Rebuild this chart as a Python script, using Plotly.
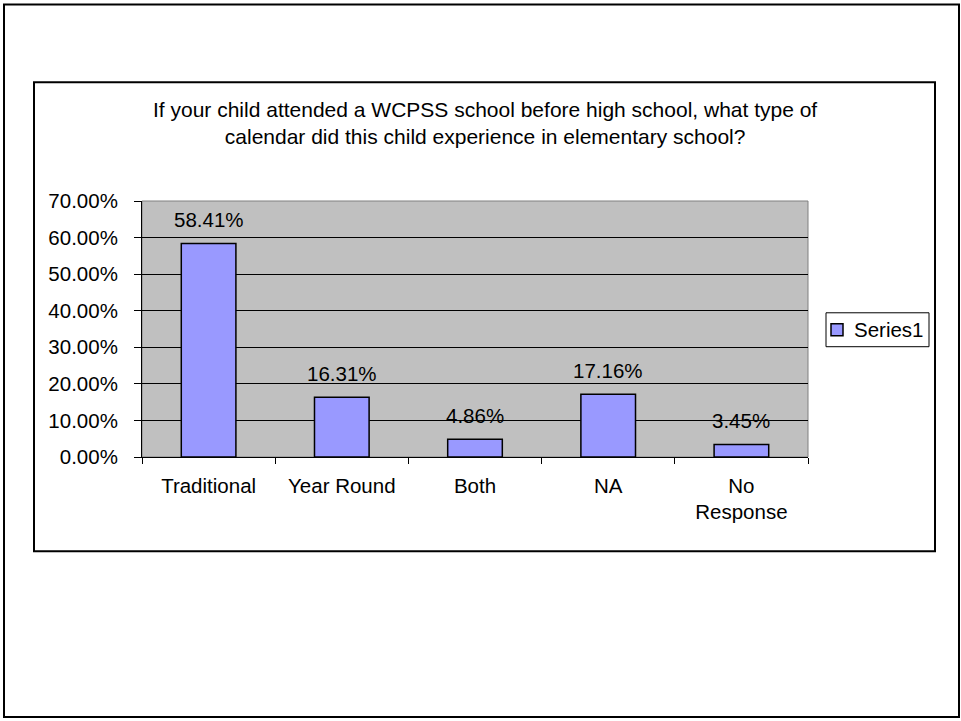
import plotly.graph_objects as go

categories = ["Traditional", "Year Round", "Both", "NA", "No<br>Response"]
values = [58.41, 16.31, 4.86, 17.16, 3.45]
value_labels = ["58.41%", "16.31%", "4.86%", "17.16%", "3.45%"]
series_name = "Series1"
title_text = ("If your child attended a WCPSS school before high school, what type of<br>"
              "calendar did this child experience in elementary school?")

W, H = 961, 721
L, R, T, B = 142, 808, 201, 457.5
pw, ph = R - L, B - T


def px_x(x):
    return (x - L) / pw


def px_y(y):
    return (B - y) / ph


FONT = "Liberation Sans, Arial, sans-serif"
FS = 20.5
FT = 21

fig = go.Figure()
fig.add_trace(go.Bar(
    x=categories, y=values, name=series_name, width=0.41,
    marker=dict(color="#9999FF", line=dict(color="black", width=1.5)),
    showlegend=False,
))

for c, v, t in zip(categories, values, value_labels):
    fig.add_annotation(x=c, y=v, text=t, showarrow=False, yshift=24,
                       yanchor="middle", font=dict(family=FONT, size=FS, color="black"))

fig.add_annotation(xref="paper", yref="paper", x=px_x(484.5), y=px_y(123),
                   text=title_text, showarrow=False, xanchor="center", yanchor="middle",
                   align="center", font=dict(family=FONT, size=FT, color="black"))

# legend (Excel-style box with small swatch)
fig.add_annotation(xref="paper", yref="paper", x=px_x(852), y=px_y(330),
                   text=series_name, showarrow=False, xanchor="left", yanchor="middle",
                   font=dict(family=FONT, size=FS, color="black"))

shapes = [
    dict(type="rect", xref="paper", yref="paper", x0=px_x(4), x1=px_x(959), y0=px_y(718), y1=px_y(4),
         line=dict(color="black", width=2), layer="below"),
    dict(type="rect", xref="paper", yref="paper", x0=px_x(34), x1=px_x(935), y0=px_y(552), y1=px_y(82),
         line=dict(color="black", width=2), layer="below"),
    dict(type="rect", xref="paper", yref="paper", x0=0, x1=1, y0=0, y1=1,
         line=dict(color="#808080", width=1), layer="below"),
    dict(type="rect", xref="paper", yref="paper", x0=px_x(826), x1=px_x(929), y0=px_y(347), y1=px_y(313),
         line=dict(color="black", width=1), fillcolor="white"),
    dict(type="rect", xref="paper", yref="paper", x0=px_x(831), x1=px_x(843), y0=px_y(336), y1=px_y(324),
         line=dict(color="black", width=1.5), fillcolor="#9999FF"),
]

fig.update_layout(
    width=W, height=H,
    margin=dict(l=L, r=W - R, t=T, b=H - B, pad=0),
    paper_bgcolor="white", plot_bgcolor="#C0C0C0",
    font=dict(family=FONT, size=FS, color="black"),
    shapes=shapes,
    showlegend=False,
    xaxis=dict(type="category", tickson="boundaries", ticks="outside", ticklen=6,
               tickcolor="black", showline=True, linecolor="black", linewidth=1,
               showgrid=False, tickfont=dict(family=FONT, size=FS, color="black"),
               ticklabelstandoff=10),
    yaxis=dict(range=[0, 70], dtick=10, tickformat=".2f", ticksuffix="%",
               ticks="outside", ticklen=7, tickcolor="black",
               showline=True, linecolor="black", linewidth=1,
               showgrid=True, gridcolor="black", gridwidth=1, zeroline=False,
               tickfont=dict(family=FONT, size=FS, color="black"),
               ticklabelstandoff=12),
)

fig.write_html("out.html",
               config={"displayModeBar": False},
               post_script="document.body.style.margin='0';document.body.style.overflow='hidden';")
